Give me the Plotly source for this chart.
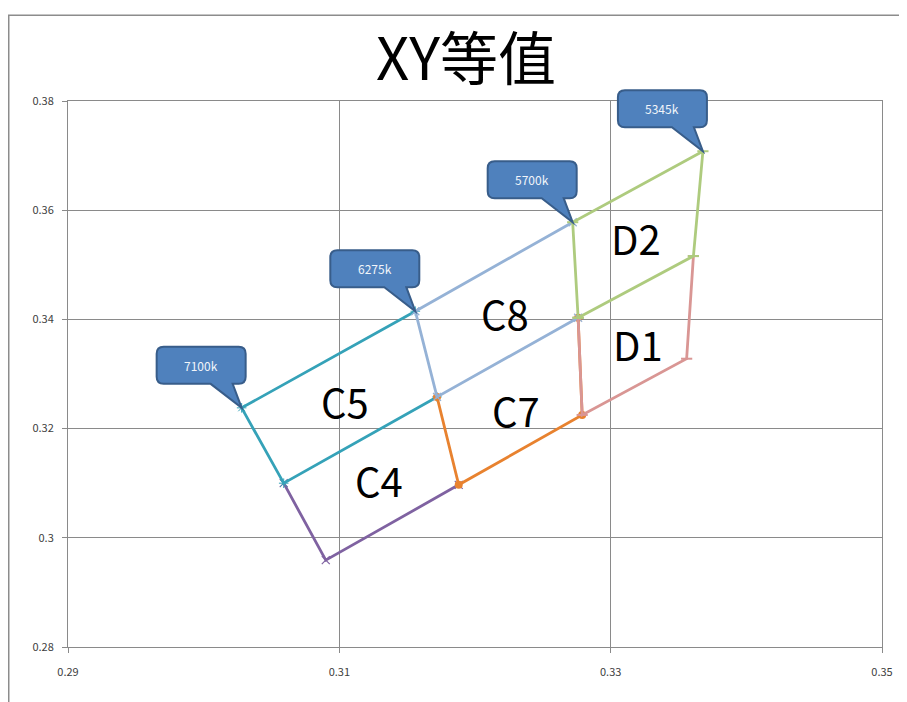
import plotly.graph_objects as go

# ---- data ----
c4_x = [0.3059, 0.3090, 0.3188]
c4_y = [0.3100, 0.2959, 0.3097]
c5_x = [0.3156, 0.3028, 0.3059, 0.3172]
c5_y = [0.3415, 0.3238, 0.3100, 0.3258]
c7_x = [0.3172, 0.3188, 0.3279, 0.3276]
c7_y = [0.3258, 0.3097, 0.3225, 0.3403]
c8_x = [0.3272, 0.3156, 0.3172, 0.3276]
c8_y = [0.3578, 0.3415, 0.3258, 0.3403]
d1_x = [0.3361, 0.3356, 0.3279, 0.3276]
d1_y = [0.3516, 0.3328, 0.3225, 0.3403]
d2_x = [0.3276, 0.3272, 0.3368, 0.3361, 0.3276]
d2_y = [0.3403, 0.3578, 0.3708, 0.3516, 0.3403]

cct_labels = ["7100k", "6275k", "5700k", "5345k"]
cct_x = [0.3028, 0.3156, 0.3272, 0.3368]
cct_y = [0.3238, 0.3415, 0.3578, 0.3708]

region_labels = ["C5", "C4", "C7", "C8", "D1", "D2"]
region_x = [0.3104, 0.3129, 0.3230, 0.3222, 0.3320, 0.3319]
region_y = [0.3251, 0.3106, 0.3234, 0.3412, 0.3355, 0.3549]

X_RANGE = [0.29, 0.35]
Y_RANGE = [0.28, 0.38]

FONT = "Noto Sans CJK SC"

series = [
    (c4_x, c4_y, "#7F62A1", dict(symbol="x-thin", size=8, line=dict(width=1.2, color="#7F62A1"))),
    (c5_x, c5_y, "#35A2B8", dict(symbol="asterisk", size=8, line=dict(width=1, color="#35A2B8"))),
    (c7_x, c7_y, "#E8822F", dict(symbol="circle", size=8, color="#E8822F")),
    (c8_x, c8_y, "#95B2D6", dict(symbol="x-thin", size=8, line=dict(width=1.2, color="#95B2D6"))),
    (d1_x, d1_y, "#D99694", dict(symbol="line-ew", size=8, line=dict(width=2, color="#D99694"))),
    (d2_x, d2_y, "#AECB7E", dict(symbol="line-ew", size=8, line=dict(width=2, color="#AECB7E"))),
]

fig = go.Figure()
for xs, ys, col, mk in series:
    fig.add_trace(go.Scatter(x=xs, y=ys, mode="lines+markers",
                             line=dict(color=col, width=2.8), marker=mk,
                             showlegend=False, hoverinfo="skip"))

def to_paper_x(v):
    return (v - X_RANGE[0]) / (X_RANGE[1] - X_RANGE[0])

def to_paper_y(v):
    return (v - Y_RANGE[0]) / (Y_RANGE[1] - Y_RANGE[0])

# callouts (pixel-sized shapes anchored at the data point, paper refs so not clipped)
L, R, B, T, r = -85, 4, 24, 61, 7
tl, tr = -31, -9
callout_path = (
    f"M {tr} {B} L {R - r} {B} Q {R} {B} {R} {B + r} L {R} {T - r} Q {R} {T} {R - r} {T} "
    f"L {L + r} {T} Q {L} {T} {L} {T - r} L {L} {B + r} Q {L} {B} {L + r} {B} "
    f"L {tl} {B} L 0 0 Z"
)
for lab, cx, cy in zip(cct_labels, cct_x, cct_y):
    px, py = to_paper_x(cx), to_paper_y(cy)
    fig.add_shape(type="path", xref="paper", yref="paper", xsizemode="pixel", ysizemode="pixel",
                  xanchor=px, yanchor=py, path=callout_path,
                  fillcolor="#4F81BD", line=dict(color="#385D8A", width=2), layer="above")
    fig.add_annotation(x=px, y=py, xref="paper", yref="paper", text=lab, showarrow=False,
                       xanchor="center", yanchor="middle",
                       xshift=(L + R) / 2, yshift=(B + T) / 2,
                       font=dict(family=FONT, size=12, color="#F2F5FA"))

for lab, rx, ry in zip(region_labels, region_x, region_y):
    fig.add_annotation(x=rx, y=ry, xref="x", yref="y", text=lab, showarrow=False,
                       xanchor="center", yanchor="middle",
                       font=dict(family=FONT, size=40, color="#000000"))

# outer chart border
fig.add_shape(type="rect", xref="paper", yref="paper", x0=-0.0728, x1=1.3, y0=-0.4, y1=1.157,
              line=dict(color="#8C8C8C", width=1.5), fillcolor="rgba(0,0,0,0)", layer="below")

fig.update_layout(
    width=899, height=694,
    margin=dict(l=60, r=25, t=93, b=55),
    paper_bgcolor="white", plot_bgcolor="white",
    title=dict(text="XY等值", x=0.5095, xanchor="center", y=0.925, yanchor="middle",
               font=dict(family=FONT, size=58, color="#000000")),
    showlegend=False,
)
axis_common = dict(showgrid=True, gridcolor="#8A8A8A", gridwidth=1,
                   showline=True, linecolor="#8A8A8A", linewidth=1, mirror=True,
                   ticks="outside", ticklen=5, tickcolor="#8A8A8A", zeroline=False,
                   tickfont=dict(family=FONT, size=11, color="#404040"))
fig.update_xaxes(range=X_RANGE, dtick=0.02, tick0=0.29, ticklabelstandoff=10, **axis_common)
fig.update_yaxes(range=Y_RANGE, dtick=0.02, tick0=0.28, ticklabelstandoff=6, **axis_common)

fig.write_html("out.html")
